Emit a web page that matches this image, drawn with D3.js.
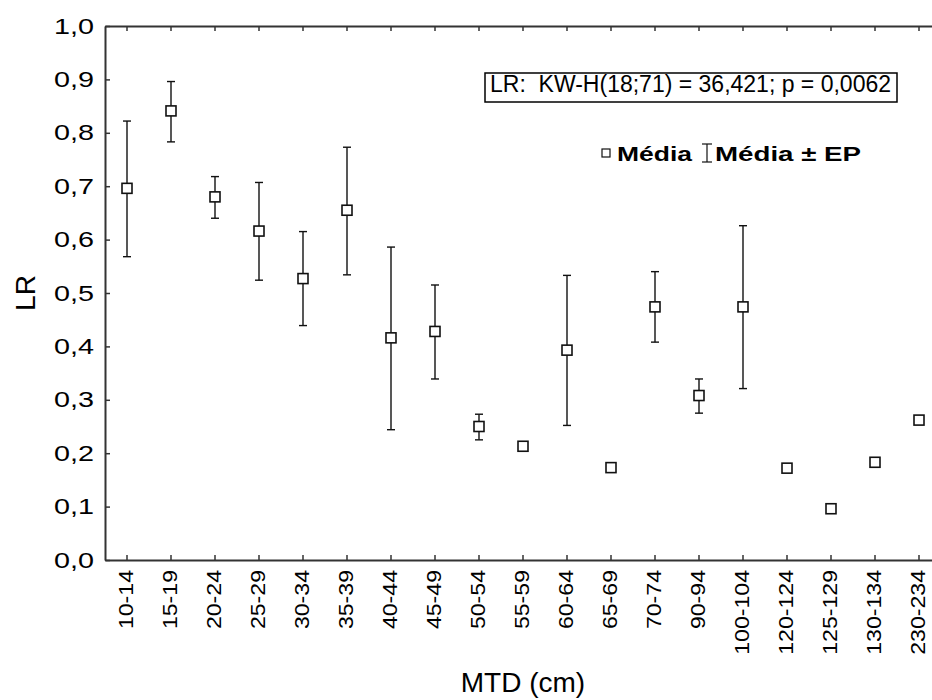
<!DOCTYPE html>
<html>
<head>
<meta charset="utf-8">
<script src="https://cdn.jsdelivr.net/npm/d3@7"></script>
<style>
  body { margin: 0; background: #fff; }
  svg { display: block; font-family: Arial, "Liberation Sans", sans-serif; }
</style>
</head>
<body>
<div id="chart"></div>
<script>
const WIDTH = 932;
const HEIGHT = 700;
const PLOT = { LEFT: 105, RIGHT: 941, TOP: 26, BOTTOM: 560 };

// data
const categories = ["10-14", "15-19", "20-24", "25-29", "30-34", "35-39", "40-44", "45-49", "50-54",
    "55-59", "60-64", "65-69", "70-74", "90-94", "100-104", "120-124", "125-129", "130-134", "230-234"];
const means = [0.696, 0.841, 0.680, 0.616, 0.527, 0.655, 0.416, 0.428, 0.250,
    0.213, 0.393, 0.173, 0.474, 0.308, 0.474, 0.172, 0.096, 0.183, 0.262];
const upper = [0.822, 0.896, 0.718, 0.707, 0.615, 0.773, 0.586, 0.515, 0.273,
    null, 0.533, null, 0.540, 0.339, 0.626, null, null, null, null];
const lower = [0.568, 0.783, 0.640, 0.524, 0.439, 0.534, 0.244, 0.339, 0.225,
    null, 0.252, null, 0.408, 0.275, 0.321, null, null, null, null];
const yTicks = [0, 0.1, 0.2, 0.3, 0.4, 0.5, 0.6, 0.7, 0.8, 0.9, 1.0];

const statText = "LR:  KW-H(18;71) = 36,421; p = 0,0062";

let svg = d3.select("#chart")
    .append("svg")
    .attr("width", WIDTH)
    .attr("height", HEIGHT);

let x = d3.scaleBand().domain(categories).range([PLOT.LEFT, PLOT.RIGHT]);
let y = d3.scaleLinear().domain([0, 1]).range([PLOT.BOTTOM, PLOT.TOP]);

const ptLocale = d3.formatLocale({ decimal: ",", thousands: ".", grouping: [3], currency: ["", ""] });
const fmt = ptLocale.format(".1f");

// y axis
let yAxis = svg.append("g")
    .attr("transform", `translate(${PLOT.LEFT},0)`)
    .call(d3.axisLeft(y).tickValues(yTicks).tickFormat(fmt).tickSize(-5).tickSizeOuter(0).tickPadding(11));
yAxis.select(".domain").attr("stroke", "#333").attr("stroke-width", 2);
yAxis.selectAll(".tick line").attr("stroke", "#333").attr("stroke-width", 1.5);
yAxis.selectAll(".tick text")
    .attr("fill", "#000")
    .style("font-size", "22px")
    .attr("textLength", 40)
    .attr("lengthAdjust", "spacingAndGlyphs");

// bottom axis
let xAxis = svg.append("g")
    .attr("transform", `translate(0,${PLOT.BOTTOM})`)
    .call(d3.axisBottom(x).tickSize(-5).tickSizeOuter(0));
xAxis.select(".domain").attr("stroke", "#333").attr("stroke-width", 2);
xAxis.selectAll(".tick line").attr("stroke", "#333").attr("stroke-width", 1.5);
xAxis.selectAll(".tick text")
    .attr("fill", "#000")
    .style("font-size", "21px")
    .style("text-anchor", "end")
    .attr("transform", "rotate(-90)")
    .attr("x", -10)
    .attr("y", 0)
    .attr("dy", "0.3em")
    .each(function () {
        let len = this.getComputedTextLength();
        d3.select(this).attr("textLength", len * 1.1).attr("lengthAdjust", "spacingAndGlyphs");
    });

// top border with inward ticks
let topAxis = svg.append("g")
    .attr("transform", `translate(0,${PLOT.TOP})`)
    .call(d3.axisTop(x).tickSize(-5).tickSizeOuter(0).tickFormat(""));
topAxis.select(".domain").attr("stroke", "#333").attr("stroke-width", 2);
topAxis.selectAll(".tick line").attr("stroke", "#333").attr("stroke-width", 1.5);

// axis titles
svg.append("text")
    .attr("x", (PLOT.LEFT + PLOT.RIGHT) / 2)
    .attr("y", 692)
    .style("text-anchor", "middle")
    .style("font-size", "28px")
    .text("MTD (cm)");

svg.append("text")
    .attr("transform", `translate(35,${(PLOT.TOP + PLOT.BOTTOM) / 2}) rotate(-90)`)
    .style("text-anchor", "middle")
    .style("font-size", "28px")
    .text("LR");

// error bars
let cx = (i) => x(categories[i]) + x.bandwidth() / 2;
let bars = svg.append("g")
    .selectAll(".err")
    .data(categories.map((c, i) => i).filter(i => upper[i] !== null))
    .enter()
    .append("g")
    .attr("class", "err")
    .attr("stroke", "#111")
    .attr("stroke-width", 1.4);
bars.append("line")
    .attr("x1", i => cx(i)).attr("x2", i => cx(i))
    .attr("y1", i => y(upper[i])).attr("y2", i => y(lower[i]));
bars.append("line")
    .attr("x1", i => cx(i) - 4).attr("x2", i => cx(i) + 4)
    .attr("y1", i => y(upper[i])).attr("y2", i => y(upper[i]));
bars.append("line")
    .attr("x1", i => cx(i) - 4).attr("x2", i => cx(i) + 4)
    .attr("y1", i => y(lower[i])).attr("y2", i => y(lower[i]));

// mean markers
svg.append("g")
    .selectAll(".mean")
    .data(means)
    .enter()
    .append("rect")
    .attr("class", "mean")
    .attr("x", (d, i) => cx(i) - 5)
    .attr("y", d => y(d) - 5)
    .attr("width", 10)
    .attr("height", 10)
    .attr("fill", "#fff")
    .attr("stroke", "#111")
    .attr("stroke-width", 1.6);

// stats box
svg.append("rect")
    .attr("x", 485).attr("y", 73)
    .attr("width", 412).attr("height", 29)
    .attr("fill", "#fff")
    .attr("stroke", "#000")
    .attr("stroke-width", 1.5);
svg.append("text")
    .attr("x", 490).attr("y", 92)
    .style("font-size", "23px")
    .style("white-space", "pre")
    .attr("xml:space", "preserve")
    .text(statText);

// legend
let legend = svg.append("g").attr("id", "legend");
legend.append("rect")
    .attr("x", 602).attr("y", 149)
    .attr("width", 8).attr("height", 8)
    .attr("fill", "#fff")
    .attr("stroke", "#111")
    .attr("stroke-width", 1.2);
legend.append("text")
    .attr("x", 617).attr("y", 161)
    .style("font-size", "21px")
    .style("font-weight", "bold")
    .attr("textLength", 75)
    .attr("lengthAdjust", "spacingAndGlyphs")
    .text("Média");
let ibar = legend.append("g").attr("stroke", "#111").attr("stroke-width", 1.2);
ibar.append("line").attr("x1", 707).attr("x2", 707).attr("y1", 144).attr("y2", 162);
ibar.append("line").attr("x1", 702).attr("x2", 712).attr("y1", 144).attr("y2", 144);
ibar.append("line").attr("x1", 702).attr("x2", 712).attr("y1", 162).attr("y2", 162);
legend.append("text")
    .attr("x", 715).attr("y", 161)
    .style("font-size", "21px")
    .style("font-weight", "bold")
    .attr("textLength", 146)
    .attr("lengthAdjust", "spacingAndGlyphs")
    .text("Média ± EP");
</script>
</body>
</html>
